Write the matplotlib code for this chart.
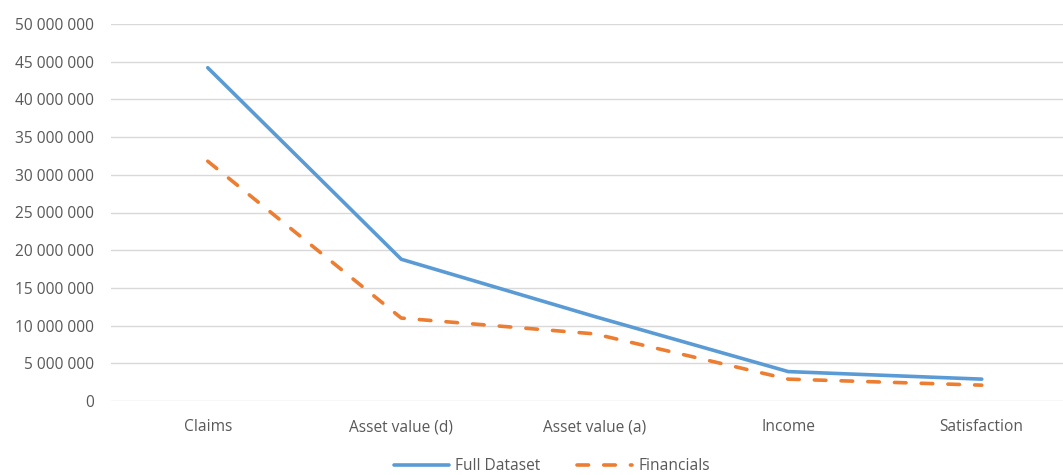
import matplotlib
matplotlib.use("Agg")
import matplotlib.pyplot as plt
from matplotlib.ticker import FuncFormatter, MultipleLocator

categories = ["Claims", "Asset value (d)", "Asset value (a)", "Income", "Satisfaction"]
full_dataset = [44_200_000, 18_800_000, 11_200_000, 3_900_000, 2_900_000]
financials = [31_800_000, 11_000_000, 8_900_000, 2_900_000, 2_100_000]

BLUE = "#5B9BD5"
ORANGE = "#ED7D31"
TXT = "#595959"

plt.rcParams["font.family"] = ["Open Sans", "DejaVu Sans"]

fig = plt.figure(figsize=(10.63, 4.75), dpi=100)
ax = fig.add_axes([111 / 1063, 1 - 401 / 475, 967.5 / 1063, 377 / 475])

x = range(len(categories))
ax.plot(x, full_dataset, color=BLUE, lw=2.6, solid_capstyle="round",
        solid_joinstyle="round", label="Full Dataset")
ax.plot(x, financials, color=ORANGE, lw=2.6, dashes=(3.2, 4.2),
        dash_capstyle="round", dash_joinstyle="round", label="Financials")

ax.set_xlim(-0.5, len(categories) - 0.5)
ax.set_ylim(0, 50_000_000)
ax.yaxis.set_major_locator(MultipleLocator(5_000_000))
ax.yaxis.set_major_formatter(FuncFormatter(lambda v, p: f"{int(v):,}".replace(",", " ")))
ax.set_xticks(list(x))
ax.set_xticklabels(categories)
ax.grid(axis="y", color="#D9D9D9", lw=1)
ax.set_axisbelow(True)
for s in ax.spines.values():
    s.set_visible(False)
ax.tick_params(axis="both", length=0, labelsize=11.2, colors=TXT)
ax.tick_params(axis="y", pad=12)
ax.tick_params(axis="x", pad=13)

fig.legend(loc="center", bbox_to_anchor=(552 / 1063, 1 - 466 / 475), ncol=2,
           frameon=False, fontsize=11.2, labelcolor=TXT, handlelength=3.5,
           columnspacing=2.4, handletextpad=0.4)

fig.savefig("out.png", dpi=100)
